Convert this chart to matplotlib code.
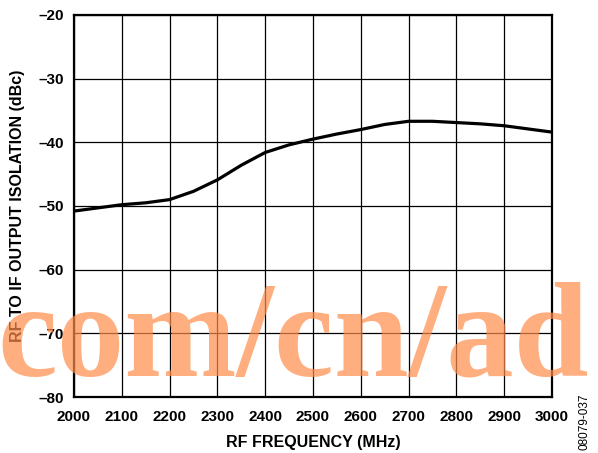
import numpy as np
import matplotlib.pyplot as plt

# RF to IF isolation vs RF frequency
freq_mhz = [2000, 2050, 2100, 2150, 2200, 2250, 2300, 2350, 2400, 2450, 2500,
            2550, 2600, 2650, 2700, 2750, 2800, 2850, 2900, 2950, 3000]
isolation_dbc = [-50.8, -50.3, -49.8, -49.5, -49.0, -47.7, -45.9, -43.6, -41.6, -40.4, -39.5,
                 -38.7, -38.0, -37.2, -36.7, -36.7, -36.9, -37.1, -37.4, -37.9, -38.4]

x_ticks = list(range(2000, 3001, 100))
y_ticks = list(range(-80, -19, 10))

plt.rcParams['font.family'] = ['Liberation Sans', 'DejaVu Sans']
plt.rcParams['font.weight'] = 'bold'

fig = plt.figure(figsize=(5.98, 4.53), dpi=100)
ax = fig.add_axes([0.1237, 0.1236, 0.923 - 0.1237, 0.967 - 0.1236])

ax.plot(freq_mhz, isolation_dbc, color='black', linewidth=2.3, zorder=3)

ax.set_xlim(2000, 3000)
ax.set_ylim(-80, -20)
ax.set_xticks(x_ticks)
ax.set_yticks(y_ticks)
ax.set_yticklabels([f'\u2013{abs(v)}' for v in y_ticks])
ax.grid(True, color='black', linewidth=0.9)
ax.tick_params(length=0, labelsize=11, pad=7)
ax.tick_params(axis='x', pad=9)
for lbl in ax.get_xticklabels() + ax.get_yticklabels():
    lbl.set_fontweight('bold')
for sp in ax.spines.values():
    sp.set_linewidth(1.6)

ax.set_xlabel('RF FREQUENCY (MHz)', fontsize=11.5, fontweight='bold', labelpad=8)
ax.set_ylabel('RF TO IF OUTPUT ISOLATION (dBc)', fontsize=11.5, fontweight='bold', labelpad=10)

fig.text(0.978, 0.006, '08079-037', rotation=90, fontsize=8.5, fontweight='normal',
         ha='center', va='bottom')

# watermark
fig.text(0.49, 0.172, 'com/cn/ad', fontsize=97, fontweight='bold', family='Liberation Serif',
         color='#ff8c4a', alpha=0.7, ha='center', va='baseline', zorder=10)

fig.savefig('out.png', dpi=100)
